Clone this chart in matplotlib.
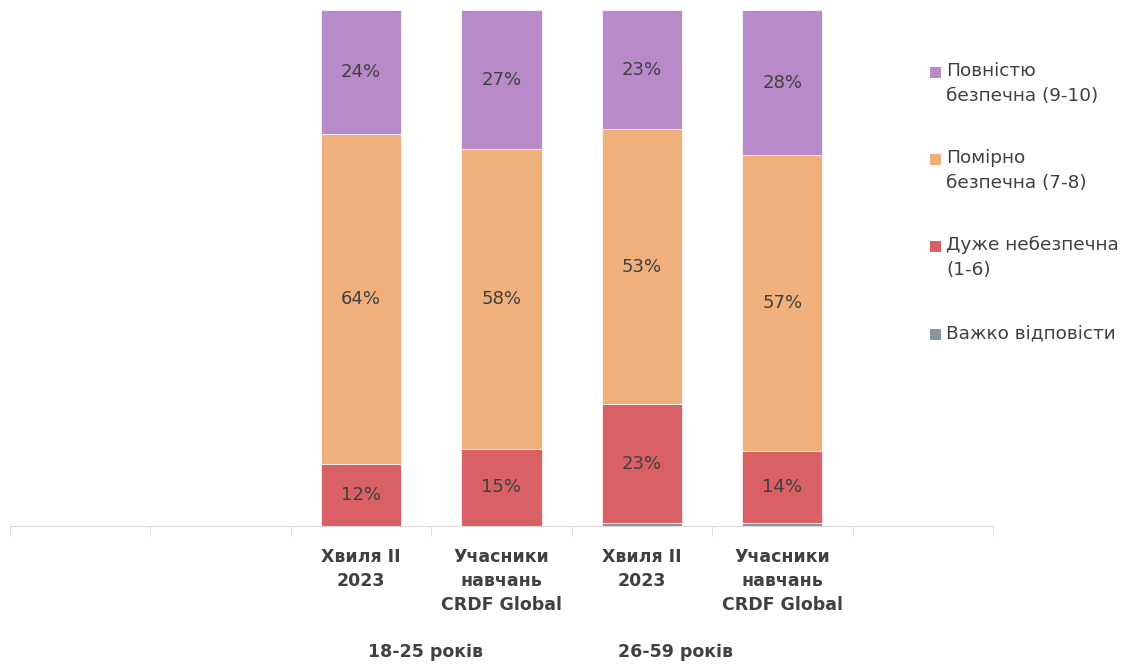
import numpy as np
import matplotlib.pyplot as plt
from matplotlib.patches import Rectangle

# ------------------------------
# data: safety rating by age group
# ------------------------------
categories = ["Хвиля II\n2023", "Учасники\nнавчань\nCRDF Global",
              "Хвиля II\n2023", "Учасники\nнавчань\nCRDF Global"]
groups = ["18-25 років", "26-59 років"]

hard_to_say = [0, 0, 0.5, 0.5]
very_unsafe = [12, 15, 23, 14]
moderately_safe = [64, 58, 53, 57]
fully_safe = [24, 27, 23, 28]

series_names = ["Важко відповісти", "Дуже небезпечна\n(1-6)",
                "Помірно\nбезпечна (7-8)", "Повністю\nбезпечна (9-10)"]
colors = ["#8496A0", "#D96064", "#F0B07B", "#B88AC9"]

text_color = "#404040"
plt.rcParams['font.family'] = ['DejaVu Sans']

W, H = 1133, 664
fig = plt.figure(figsize=(W / 100, H / 100), dpi=100)
ax = fig.add_axes([10 / W, 138 / H, 983 / W, 516 / H])

# bars sit in slots 2..5 of a 7-slot axis
x = np.arange(2, 2 + len(categories))
width = 0.57

all_series = [hard_to_say, very_unsafe, moderately_safe, fully_safe]
data = np.array(all_series, dtype=float)
# 100% stacked: every column scaled to its own total
shares = data / data.sum(axis=0) * 100

bottom = np.zeros(len(categories))
for vals, share, col, name in zip(data, shares, colors, series_names):
    ax.bar(x, share, width, bottom=bottom, color=col, label=name,
           edgecolor="white", linewidth=0.5)
    if name != "Важко відповісти":
        for xi, b, s, v in zip(x, bottom, share, vals):
            ax.text(xi, b + s / 2, f"{v:.0f}%", ha="center", va="center",
                    fontsize=13, color=text_color)
    bottom += share

ax.set_xlim(-0.5, 6.5)
ax.set_ylim(0, 100)

for s in ["top", "right", "left"]:
    ax.spines[s].set_visible(False)
ax.spines["bottom"].set_color("#D9D9D9")
ax.set_yticks([])

ax.set_xticks(x)
ax.set_xticklabels(categories, fontsize=12.5, fontweight="bold",
                   color=text_color, linespacing=1.42)
ax.tick_params(axis="x", which="major", length=0, pad=16)
ax.set_xticks(np.arange(-0.5, 7, 1), minor=True)
ax.tick_params(axis="x", which="minor", length=7, color="#D9D9D9")

# age group captions under the category labels
for gx, g in zip([2.46, 4.24], groups):
    ax.text(gx, -24.5, g, ha="center", va="center", fontsize=12.5,
            fontweight="bold", color=text_color, clip_on=False)

# legend, top entry first, square next to the first line of each label
legend_tops = [62, 149, 236, 324]
for y0, col, name in zip(legend_tops, colors[::-1], series_names[::-1]):
    fig.patches.append(Rectangle((930 / W, 1 - (y0 + 16) / H), 11 / W, 11 / H,
                                 transform=fig.transFigure, facecolor=col,
                                 edgecolor="none"))
    fig.text(946 / W, 1 - y0 / H, name, ha="left", va="top", fontsize=13.3,
             color=text_color, linespacing=1.5)

fig.savefig("out.png", dpi=100)
